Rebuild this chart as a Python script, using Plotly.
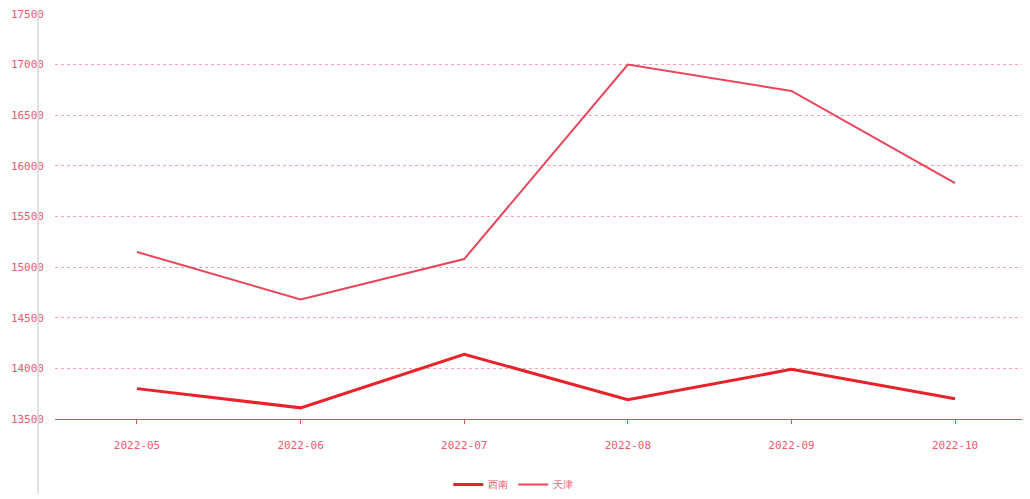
import plotly.graph_objects as go

months = ["2022-05", "2022-06", "2022-07", "2022-08", "2022-09", "2022-10"]
series_a_name = "西南"
series_b_name = "天津"
series_a = [13800, 13610, 14140, 13690, 13990, 13700]
series_b = [15150, 14680, 15080, 17000, 16740, 15830]
y_ticks = [13500, 14000, 14500, 15000, 15500, 16000, 16500, 17000, 17500]

font_mono = "DejaVu Sans Mono"
txt_color = "#ec5a70"

fig = go.Figure()
fig.add_trace(go.Scatter(
    x=list(range(len(months))), y=series_a, name=series_a_name, mode="lines",
    line=dict(color="#e8222b", width=3),
))
fig.add_trace(go.Scatter(
    x=list(range(len(months))), y=series_b, name=series_b_name, mode="lines",
    line=dict(color="#e8455a", width=2),
))

fig.update_layout(
    width=1022, height=491,
    margin=dict(l=47, r=0, t=4, b=76),
    paper_bgcolor="white", plot_bgcolor="white",
    font=dict(family=font_mono, size=11, color=txt_color),
    showlegend=True,
    legend=dict(orientation="h", x=0.47, xanchor="center", y=-0.163, yanchor="middle",
                font=dict(size=10, color=txt_color), itemwidth=30),
    xaxis=dict(
        tickmode="array", tickvals=list(range(len(months))), ticktext=months,
        range=[-0.501, 5.458], showgrid=False, zeroline=False,
        showline=True, linecolor="#e84a58", linewidth=1,
        ticks="outside", ticklen=4, tickcolor="#e84a58",
        tickfont=dict(family=font_mono, size=11, color=txt_color),
        ticklabelstandoff=12,
    ),
    yaxis=dict(
        range=[13500, 17500], tickmode="array", tickvals=y_ticks,
        ticktext=[str(v) for v in y_ticks],
        showgrid=True, gridcolor="#f2a3ae", griddash="dot", gridwidth=1,
        zeroline=False, showline=False,
        tickfont=dict(family=font_mono, size=11, color=txt_color),
        ticklabelstandoff=10, ticklabeloverflow="allow",
    ),
    shapes=[dict(type="line", xref="paper", yref="paper",
                 x0=-0.0174, x1=-0.0174, y0=-0.185, y1=1.01,
                 line=dict(color="#d8d8d8", width=1.5))],
)

fig.write_html("out.html")
